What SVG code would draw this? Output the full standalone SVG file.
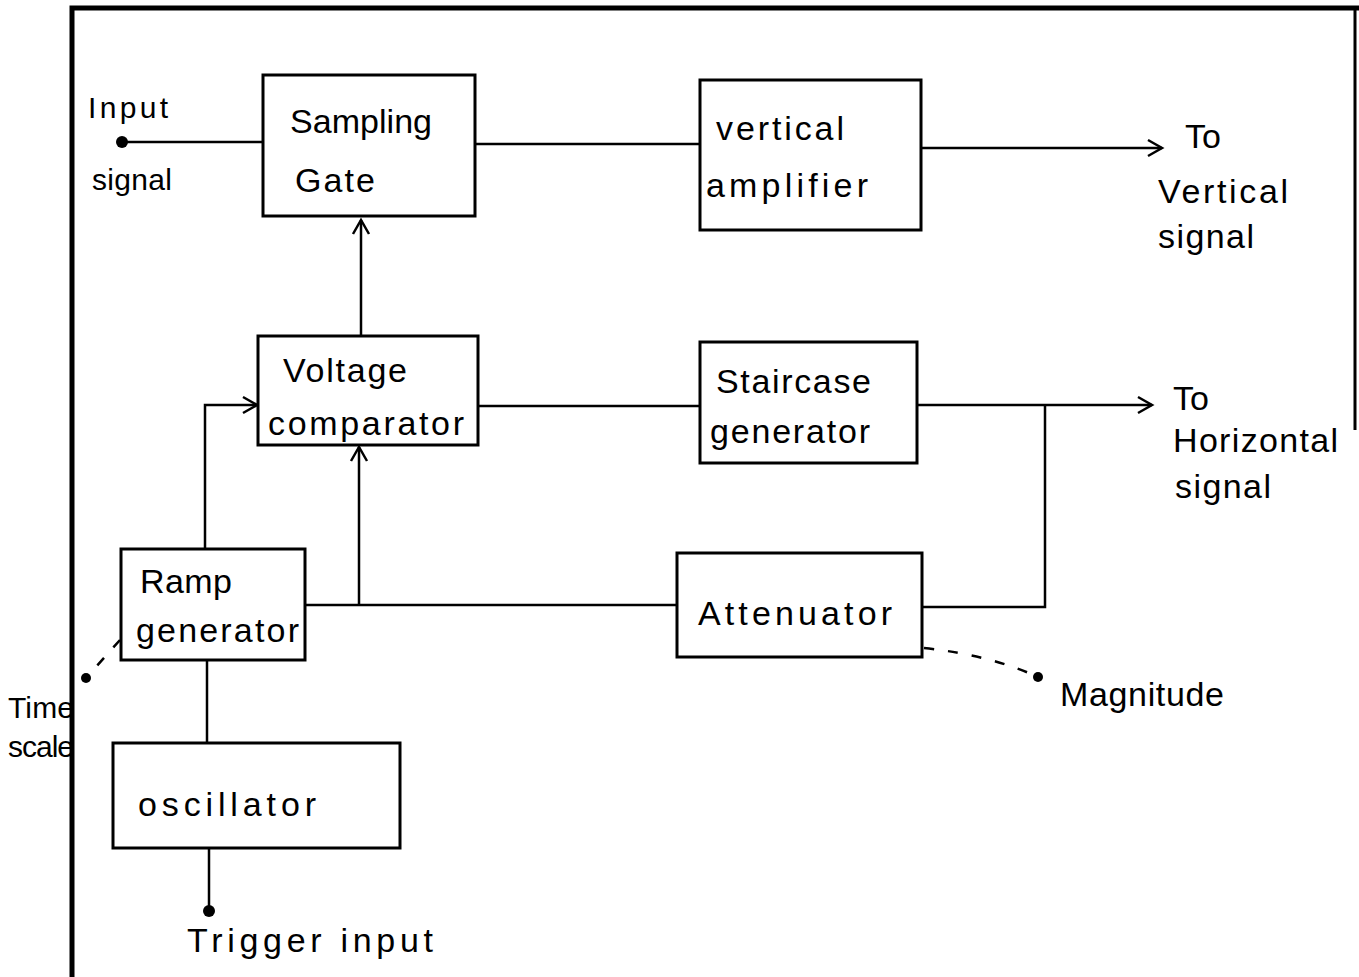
<svg xmlns="http://www.w3.org/2000/svg" width="1359" height="977" viewBox="0 0 1359 977">
<style>
.box{fill:#fff;stroke:#000;stroke-width:3}
.ln{fill:none;stroke:#000;stroke-width:2.5}
.dash{fill:none;stroke:#000;stroke-width:2.5;stroke-dasharray:10 14}
.t{font-family:"Liberation Sans",Arial,sans-serif;font-size:34px;fill:#000}
.s{font-family:"Liberation Sans",Arial,sans-serif;font-size:30px;fill:#000}
</style>
<defs>
<marker id="arr" markerWidth="20" markerHeight="20" refX="16" refY="10" orient="auto" markerUnits="userSpaceOnUse">
<path d="M2,2 L16,10 L2,18" fill="none" stroke="#000" stroke-width="2.5"/>
</marker>
</defs>
<rect width="1359" height="977" fill="#fff"/>
<g id="frame">
<path d="M72,977 V8 H1359" fill="none" stroke="#000" stroke-width="5"/>
<path d="M1355,8 V430" fill="none" stroke="#000" stroke-width="3"/>
</g>
<g id="connectors">
<path class="ln" d="M122,142 H263"/>
<path class="ln" d="M475,144 H700"/>
<path class="ln" d="M921,148 H1162" marker-end="url(#arr)"/>
<path class="ln" d="M361,335 V220" marker-end="url(#arr)"/>
<path class="ln" d="M478,406 H700"/>
<path class="ln" d="M917,405 H1152" marker-end="url(#arr)"/>
<path class="ln" d="M1045,405 V607 H922"/>
<path class="ln" d="M677,605 H305"/>
<path class="ln" d="M359,604 V447" marker-end="url(#arr)"/>
<path class="ln" d="M205,549 V405 H257" marker-end="url(#arr)"/>
<path class="ln" d="M207,660 V742"/>
<path class="ln" d="M209,848 V910"/>
<circle cx="122" cy="142" r="6"/>
<circle cx="209" cy="911" r="6"/>
<path class="dash" d="M120,640 L86,678"/>
<circle cx="86" cy="678" r="5"/>
<path class="dash" d="M924,648 Q990,655 1038,677"/>
<circle cx="1038" cy="677" r="5"/>
</g>
<g id="input-label">
<text class="s" x="88" y="118" textLength="80">Input</text>
<text class="s" x="92" y="190" textLength="80">signal</text>
</g>
<g id="sampling-gate">
<rect class="box" x="263" y="75" width="212" height="141"/>
<text class="t" x="290" y="133" textLength="142">Sampling</text>
<text class="t" x="295" y="192" textLength="80">Gate</text>
</g>
<g id="vertical-amplifier">
<rect class="box" x="700" y="80" width="221" height="150"/>
<text class="t" x="716" y="140" textLength="128">vertical</text>
<text class="t" x="706" y="197" textLength="162">amplifier</text>
</g>
<g id="to-vertical">
<text class="t" x="1185" y="148">To</text>
<text class="t" x="1158" y="203" textLength="130">Vertical</text>
<text class="t" x="1158" y="248" textLength="96">signal</text>
</g>
<g id="voltage-comparator">
<rect class="box" x="258" y="336" width="220" height="109"/>
<text class="t" x="283" y="382" textLength="124">Voltage</text>
<text class="t" x="268" y="435" textLength="196">comparator</text>
</g>
<g id="staircase-generator">
<rect class="box" x="700" y="342" width="217" height="121"/>
<text class="t" x="716" y="393" textLength="155">Staircase</text>
<text class="t" x="710" y="443" textLength="160">generator</text>
</g>
<g id="to-horizontal">
<text class="t" x="1173" y="410">To</text>
<text class="t" x="1173" y="452" textLength="165">Horizontal</text>
<text class="t" x="1175" y="498" textLength="96">signal</text>
</g>
<g id="ramp-generator">
<rect class="box" x="121" y="549" width="184" height="111"/>
<text class="t" x="140" y="593" textLength="92">Ramp</text>
<text class="t" x="136" y="642" textLength="163">generator</text>
</g>
<g id="attenuator">
<rect class="box" x="677" y="553" width="245" height="104"/>
<text class="t" x="698" y="625" textLength="194">Attenuator</text>
</g>
<g id="magnitude-label">
<text class="t" x="1060" y="706" textLength="164">Magnitude</text>
</g>
<g id="time-scale-label">
<text class="s" x="8" y="718" textLength="66">Time</text>
<text class="s" x="8" y="757" textLength="66">scale</text>
</g>
<g id="oscillator">
<rect class="box" x="113" y="743" width="287" height="105"/>
<text class="t" x="138" y="816" textLength="178">oscillator</text>
</g>
<g id="trigger-label">
<text class="t" x="187" y="952" textLength="246">Trigger input</text>
</g>
</svg>
